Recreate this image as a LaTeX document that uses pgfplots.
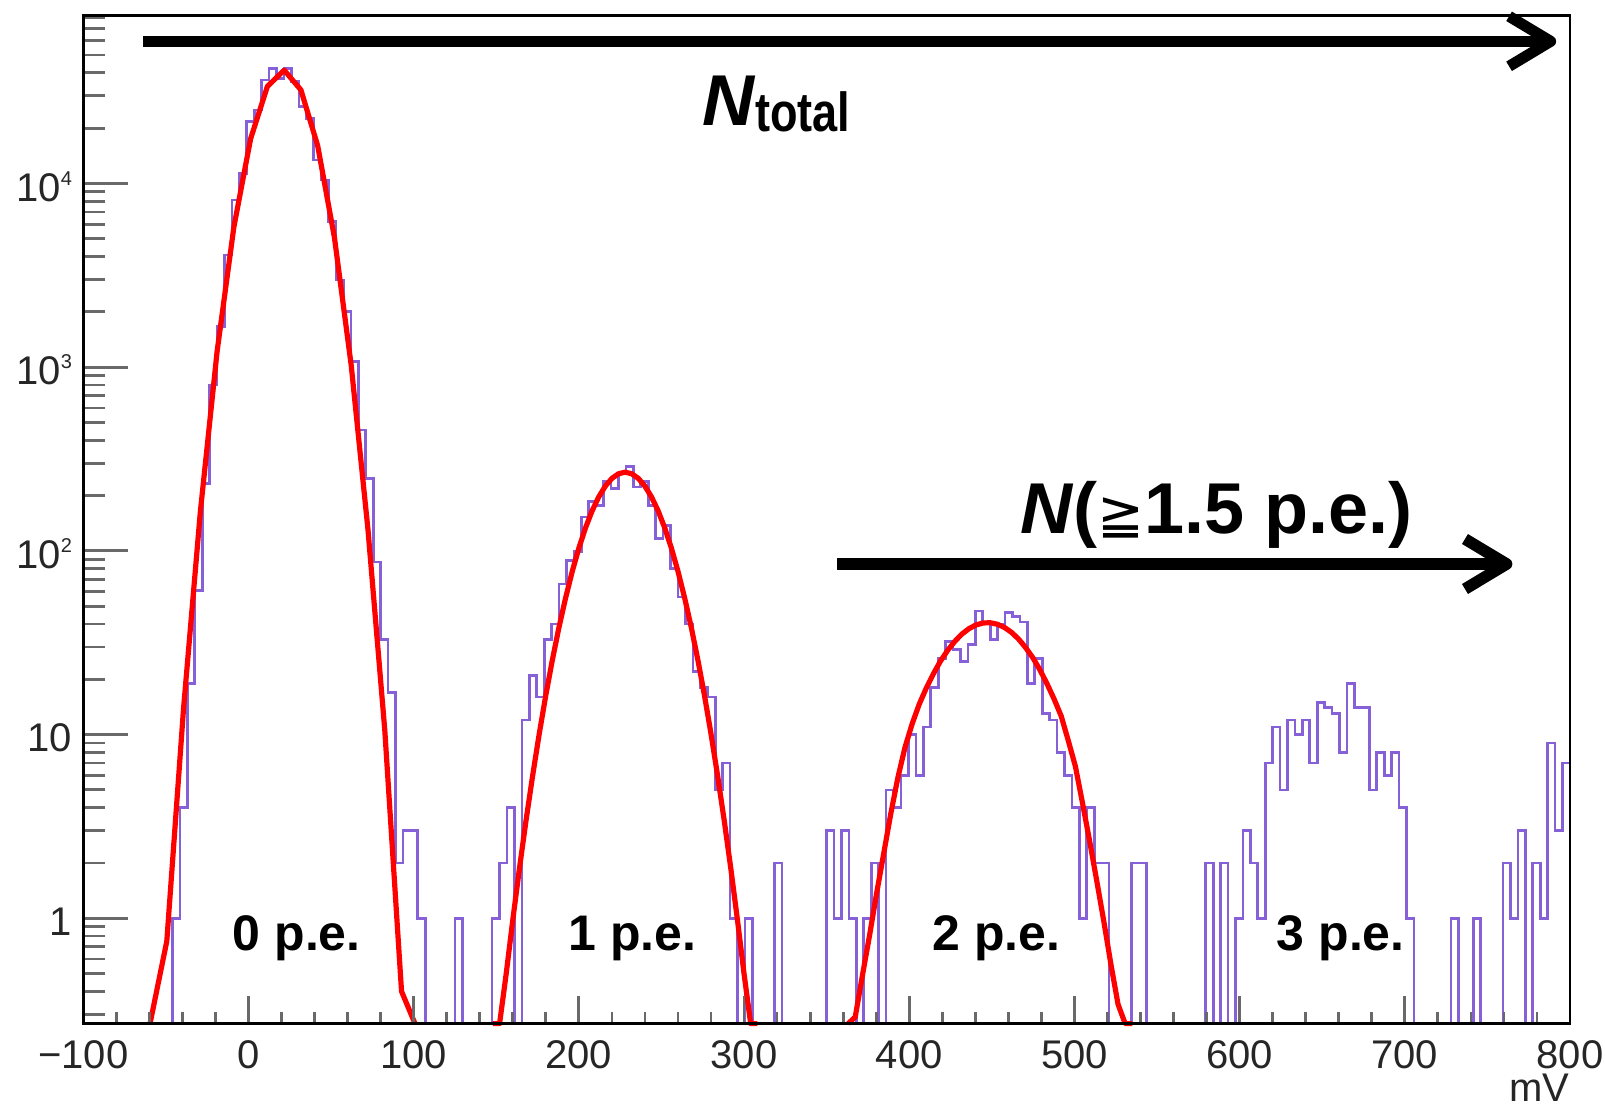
\documentclass[border=0pt]{standalone}
\usepackage{pgfplots}
\usepackage{pgfplotstable}
\pgfplotsset{compat=1.18}
\usepackage{graphicx}
\usepackage{fontspec}
\setmainfont{Liberation Sans}
\newfontfamily\djv{DejaVu Sans}
\definecolor{histc}{RGB}{134,96,214}
\definecolor{tickc}{RGB}{105,105,105}

\pgfplotstableread{
x y
-100 0.267
-95.5 0.267
-91 0.267
-86.5 0.267
-82 0.267
-77.5 0.267
-73 0.267
-68.5 0.267
-64 0.267
-59.5 0.267
-55 0.267
-50.5 0.267
-46 1
-41.5 4
-37 19
-32.5 61
-28 233
-23.5 800
-19 1660
-14.5 4075
-10 8130
-5.5 11350
-1 21700
3.5 25100
8 36550
12.5 42350
17 37300
21.5 42350
26 35800
30.5 26180
35 22600
39.5 13400
44 10440
48.5 6190
53 2980
57.5 2003
62 1070
66.5 455
71 248
75.5 87
80 33
84.5 17
89 2
93.5 3
98 3
102.5 1
107 0.267
111.5 0.267
116 0.267
120.5 0.267
125 1
129.5 0.267
134 0.267
138.5 0.267
143 0.267
147.5 1
152 2
156.5 4
161 0.267
165.5 12
170 21
174.5 16
179 33
183.5 40
188 66
192.5 89
197 99
201.5 153
206 185
210.5 177
215 238
219.5 219
224 264
228.5 287
233 223
237.5 238
242 177
246.5 117
251 138
255.5 80
260 56
264.5 40
269 22
273.5 18
278 16
282.5 5
287 7
291.5 1
296 0.267
300.5 1
305 0.267
309.5 0.267
314 0.267
318.5 2
323 0.267
327.5 0.267
332 0.267
336.5 0.267
341 0.267
345.5 0.267
350 3
354.5 1
359 3
363.5 1
368 0.267
372.5 1
377 2
381.5 0.267
386 5
390.5 4
395 6
399.5 10
404 6
408.5 11
413 18
417.5 26
422 32
426.5 29
431 25
435.5 31
440 47
444.5 40
449 33
453.5 40
458 46
462.5 44
467 41
471.5 19
476 26
480.5 13
485 12
489.5 8
494 6
498.5 4
503 1
507.5 4
512 2
516.5 2
521 0.267
525.5 0.267
530 0.267
534.5 2
539 2
543.5 0.267
548 0.267
552.5 0.267
557 0.267
561.5 0.267
566 0.267
570.5 0.267
575 0.267
579.5 2
584 0.267
588.5 2
593 0.267
597.5 1
602 3
606.5 2
611 1
615.5 7
620 11
624.5 5
629 12
633.5 10
638 12
642.5 7
647 15
651.5 14
656 13
660.5 8
665 19
669.5 14
674 14
678.5 5
683 8
687.5 6
692 8
696.5 4
701 1
705.5 0.267
710 0.267
714.5 0.267
719 0.267
723.5 0.267
728 1
732.5 0.267
737 0.267
741.5 1
746 0.267
750.5 0.267
755 0.267
759.5 2
764 1
768.5 3
773 0.267
777.5 2
782 1
786.5 9
791 3
795.5 7
800 7
}\hist

\begin{document}
\begin{tikzpicture}
\begin{axis}[
  scale only axis, width=743.35bp, height=504.1bp,
  xmin=-100, xmax=800, ymode=log, ymin=0.267, ymax=82200,
  axis line style={black, line width=1.4bp},
  tick align=inside,
  tick style={tickc, line width=1.4bp},
  clip=false,
  xtick=\empty,
  ytick={1,10,100,1000,10000},
  yticklabels={1,10,
    {10\raisebox{8bp}{\fontsize{10bp}{10bp}\selectfont 2}},
    {10\raisebox{8bp}{\fontsize{10bp}{10bp}\selectfont 3}},
    {10\raisebox{8bp}{\fontsize{10bp}{10bp}\selectfont 4}}},
  minor ytick={0.3,0.4,0.5,0.6,0.7,0.8,0.9,2,3,4,5,6,7,8,9,20,30,40,50,60,70,80,90,200,300,400,500,600,700,800,900,2000,3000,4000,5000,6000,7000,8000,9000,20000,30000,40000,50000,60000,70000,80000},
  ytick pos=left,
  major tick length=22.5bp, minor tick length=10.8bp,
  yticklabel style={font=\fontsize{20bp}{24bp}\selectfont, text=black!85, anchor=east, inner sep=0pt, xshift=-5.5bp, yshift=-1.5bp},
]
\addplot[const plot, histc, line width=1.35bp] table[x=x, y=y] {\hist};

\addplot[red, line width=2.6bp, line join=round] coordinates {
(-59.6,0.267) (-49.45,0.75) (-39.3,13.9) (-29.15,163) (-19.0,1218) (-8.85,5790) (1.3,17520) (11.45,33750) (21.6,41380) (31.75,32280) (41.9,16030) (52.05,5066) (62.2,1020) (72.35,130) (82.5,10.6) (92.65,0.4) (100.8,0.267)};

\addplot[red, line width=2.6bp, line join=round] coordinates {
(148,0.267) (152,0.267) (156,0.498) (160,0.98) (164,1.86) (168,3.40) (172,5.96) (176,10.08) (180,16.4) (184,25.6) (188,38.5) (192,55.6) (196,77.4) (200,103.5) (204,133.2) (208,165) (212,196.4) (216,225) (220,248) (224,262.9) (228,268) (232,262.9) (236,248) (240,225) (244,196.4) (248,165) (252,133.2) (256,103.5) (260,77.4) (264,55.6) (268,38.5) (272,25.6) (276,16.4) (280,10.08) (284,5.96) (288,3.40) (292,1.86) (296,0.98) (300,0.498) (304,0.267) (308,0.267)};

\addplot[red, line width=2.6bp, line join=round] coordinates {
(363,0.267) (367.3,0.29) (371.6,0.485) (375.9,0.80) (380.2,1.36) (384.5,2.24) (388.8,3.70) (393.1,5.82) (397.4,8.5) (401.7,11.4) (406,14.6) (410.3,17.9) (414.6,21.4) (418.9,25.1) (423.2,28.7) (427.5,32.1) (431.8,35.2) (436.1,37.7) (440.4,39.5) (444.7,40.5) (449,40.6) (453.3,39.9) (457.6,38.3) (461.9,36.0) (466.2,33.1) (470.5,29.7) (474.8,26.2) (479.1,22.5) (483.4,18.9) (487.7,15.6) (492,12.6) (496.3,9.25) (500.6,6.7) (504.9,4.23) (509.2,2.63) (513.5,1.60) (517.8,0.96) (522.1,0.56) (526.4,0.34) (530.7,0.267) (535,0.267)};

\draw[line width=5.5bp] (axis cs:-64,59400) -- (axis cs:787,59400);
\draw[line width=5.5bp, line join=round] (axis cs:788.3,59400) ++(-20.8bp,12.5bp) -- ++(20.8bp,-12.5bp) -- ++(-20.8bp,-12.5bp);
\draw[line width=5.8bp] (axis cs:356.4,84.8) -- (axis cs:760,84.8);
\draw[line width=5.8bp, line join=round] (axis cs:761.6,84.8) ++(-20.8bp,12.5bp) -- ++(20.8bp,-12.5bp) -- ++(-20.8bp,-12.5bp);

\node[anchor=base west, inner sep=0pt, font=\fontsize{36bp}{40bp}\selectfont\bfseries] at (axis cs:274.3,20800)
  {\textit{N}\raisebox{-3.3bp}{\fontsize{27.5bp}{30bp}\selectfont\scalebox{0.82}[1]{total}}};
\node[anchor=base west, inner sep=0pt, font=\fontsize{36bp}{40bp}\selectfont\bfseries] at (axis cs:467,124.5)
  {\textit{N}({\djv\mdseries\fontsize{28bp}{30bp}\selectfont ≧}1.5 p.e.)};

\node[anchor=base, inner sep=0pt, font=\fontsize{25bp}{28bp}\selectfont\bfseries] at (axis cs:29.2,0.671) {0 p.e.};
\node[anchor=base, inner sep=0pt, font=\fontsize{25bp}{28bp}\selectfont\bfseries] at (axis cs:232.4,0.671) {1 p.e.};
\node[anchor=base, inner sep=0pt, font=\fontsize{25bp}{28bp}\selectfont\bfseries] at (axis cs:452.9,0.671) {2 p.e.};
\node[anchor=base, inner sep=0pt, font=\fontsize{25bp}{28bp}\selectfont\bfseries] at (axis cs:661.2,0.671) {3 p.e.};
\end{axis}

\begin{axis}[
  scale only axis, width=743.35bp, height=504.1bp,
  xmin=-100, xmax=800, ymin=0, ymax=1,
  axis line style={black, line width=1.4bp},
  tick align=inside,
  tick style={tickc, line width=1.4bp},
  clip=false,
  ytick=\empty,
  xtick={-100,0,100,200,300,400,500,600,700,800},
  xticklabels={−100,0,100,200,300,400,500,600,700,800},
  minor x tick num=4,
  xtick pos=bottom,
  major tick length=14bp, minor tick length=6bp,
  xticklabel style={font=\fontsize{20bp}{24bp}\selectfont, text=black!85, anchor=north, inner sep=0pt, yshift=-8.2bp},
]
\node[anchor=north east, inner sep=0pt, font=\fontsize{20bp}{24bp}\selectfont, text=black!85, yshift=-25bp] at (rel axis cs:1,0) {mV};
\end{axis}

\pgfresetboundingbox
\path (-41.65bp,-44.7bp) rectangle (760.85bp,511.8bp);
\end{tikzpicture}
\end{document}
